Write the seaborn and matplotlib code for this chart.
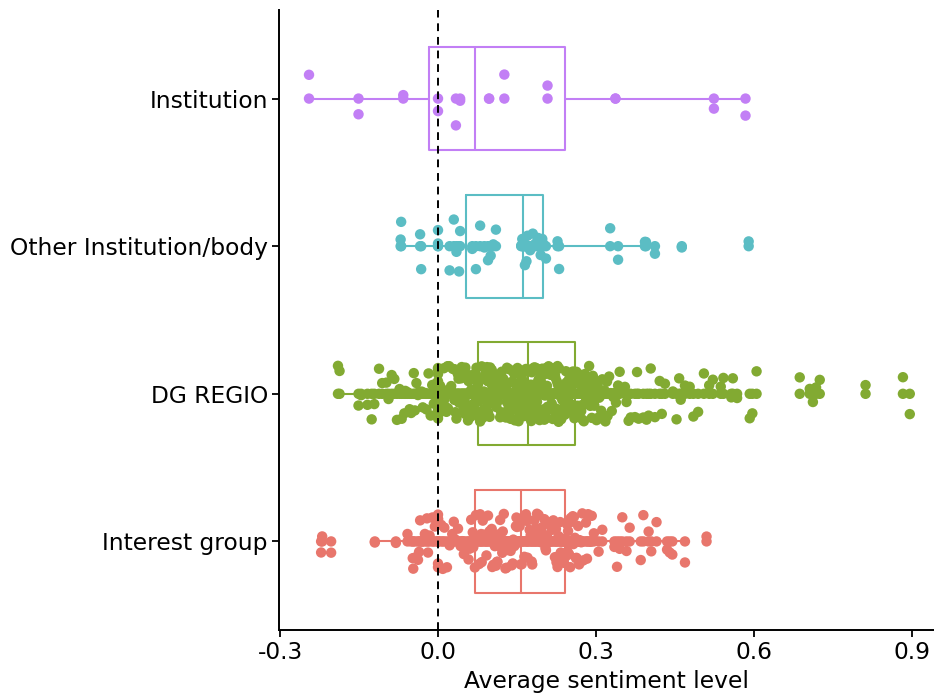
import numpy as np
import pandas as pd
import matplotlib
matplotlib.use("Agg")
import matplotlib.pyplot as plt
import seaborn as sns

# Actor groups, top to bottom
groups = ["Institution", "Other Institution/body", "DG REGIO", "Interest group"]

# Average sentiment level of each document, per actor group
institution = [-0.245, -0.151, -0.066, 0.000, 0.034, 0.042, 0.097, 0.126,
               0.208, 0.337, 0.524, 0.584]

other_body = [-0.071, -0.070, -0.034, -0.032, 0.000, 0.000, 0.022, 0.030,
              0.035, 0.040, 0.042,
              0.065, 0.072, 0.080, 0.088, 0.095, 0.100, 0.105, 0.110,
              0.158, 0.160, 0.162, 0.163, 0.165, 0.168, 0.170, 0.175, 0.180,
              0.185, 0.190, 0.195, 0.198, 0.200, 0.205,
              0.227, 0.230, 0.327, 0.342, 0.393, 0.395, 0.412, 0.463, 0.590]

dg_regio = [-0.190, -0.187, -0.151, -0.146, -0.134, -0.126, -0.121, -0.112,
            -0.106, -0.094, -0.083, -0.078, -0.069, -0.064, -0.058, -0.051,
            -0.046, -0.041, -0.035, -0.029, -0.024, -0.018, -0.011, -0.005,
            -0.098, -0.088, -0.073, -0.062, -0.054, -0.044, -0.038, -0.031,
            -0.022, -0.014, -0.008,
            0.000, 0.000, 0.000, 0.000, 0.000, 0.000, 0.000, 0.000,
            0.000, 0.000, 0.000,
            0.004, 0.007, 0.009, 0.012, 0.014, 0.016, 0.019, 0.021, 0.023,
            0.026, 0.028, 0.030, 0.031, 0.033, 0.035, 0.037, 0.039, 0.040,
            0.042, 0.044, 0.046, 0.047, 0.049, 0.051, 0.052, 0.054, 0.055,
            0.057, 0.058, 0.060, 0.061, 0.062, 0.064, 0.065, 0.066, 0.067,
            0.068, 0.069, 0.070, 0.071, 0.072, 0.073, 0.074,
            0.003, 0.011, 0.018, 0.025, 0.032, 0.038, 0.045, 0.050, 0.056,
            0.063, 0.071,
            0.076, 0.077, 0.079, 0.080, 0.081, 0.083, 0.084, 0.085, 0.087,
            0.088, 0.089, 0.091, 0.092, 0.093, 0.094, 0.096, 0.097, 0.098,
            0.099, 0.101, 0.102, 0.103, 0.104, 0.106, 0.107, 0.108, 0.110,
            0.111, 0.112, 0.113, 0.115, 0.116, 0.117, 0.118, 0.120, 0.121,
            0.122, 0.124, 0.125, 0.126, 0.127, 0.129, 0.130, 0.131, 0.132,
            0.134, 0.135, 0.136, 0.138, 0.139, 0.140, 0.141, 0.143, 0.144,
            0.145, 0.146, 0.148, 0.149, 0.150, 0.151, 0.153, 0.154, 0.155,
            0.156, 0.158, 0.159, 0.160, 0.161, 0.162, 0.163, 0.164, 0.165,
            0.166, 0.168, 0.169,
            0.078, 0.082, 0.086, 0.090, 0.095, 0.100, 0.105, 0.109, 0.114,
            0.119, 0.123, 0.128, 0.133, 0.137, 0.142, 0.147, 0.152, 0.157,
            0.160, 0.163, 0.165, 0.167, 0.168, 0.157, 0.131,
            0.171, 0.172, 0.173, 0.175, 0.176, 0.177, 0.178, 0.179, 0.181,
            0.182, 0.183, 0.184, 0.185, 0.187, 0.188, 0.189, 0.190, 0.191,
            0.193, 0.194, 0.195, 0.196, 0.197, 0.199, 0.200, 0.201, 0.202,
            0.203, 0.205, 0.206, 0.207, 0.208, 0.209, 0.211, 0.212, 0.213,
            0.214, 0.215, 0.217, 0.218, 0.219, 0.220, 0.221, 0.223, 0.224,
            0.225, 0.226, 0.227, 0.229, 0.230, 0.231, 0.232, 0.233, 0.235,
            0.236, 0.237, 0.238, 0.239, 0.241, 0.242, 0.243, 0.244, 0.245,
            0.247, 0.248, 0.249, 0.250, 0.251, 0.253, 0.254, 0.255, 0.256,
            0.257, 0.259, 0.260,
            0.174, 0.180, 0.186, 0.192, 0.198, 0.204, 0.210, 0.216, 0.222,
            0.228, 0.234, 0.240, 0.246, 0.252, 0.258, 0.178, 0.189, 0.201,
            0.213, 0.226, 0.239, 0.183, 0.196, 0.219, 0.244,
            0.263, 0.264, 0.266, 0.267, 0.268, 0.270, 0.271, 0.272, 0.274,
            0.275, 0.276, 0.278, 0.279, 0.280, 0.282, 0.283, 0.284, 0.286,
            0.287, 0.288, 0.290, 0.291, 0.292, 0.294, 0.295, 0.296, 0.298,
            0.299, 0.301, 0.303,
            0.265, 0.269, 0.273, 0.277, 0.281, 0.285, 0.289, 0.293, 0.297,
            0.300, 0.304, 0.308, 0.312, 0.316, 0.322, 0.330, 0.336, 0.342,
            0.355, 0.362, 0.378, 0.400, 0.425, 0.458, 0.515,
            0.306, 0.310, 0.314, 0.318, 0.321, 0.325, 0.328, 0.333, 0.338,
            0.345, 0.358, 0.366, 0.374, 0.381, 0.390, 0.396, 0.404, 0.412,
            0.421, 0.431, 0.446, 0.453, 0.461, 0.469, 0.478, 0.485, 0.494,
            0.505, 0.522, 0.537,
            0.542, 0.557, 0.560, 0.568, 0.592, 0.597, 0.605, 0.687, 0.706,
            0.712, 0.718, 0.725, 0.812, 0.883, 0.896]

interest_group = [-0.222, -0.220, -0.203, -0.120, -0.080,
                  -0.058, -0.052, -0.047, -0.043, -0.038, -0.034, -0.030,
                  -0.025, -0.021, -0.016, -0.011, -0.006,
                  -0.048, -0.036, -0.019, -0.009,
                  0.000, 0.000, 0.000, 0.000, 0.000, 0.000,
                  0.006, 0.012, 0.017, 0.022, 0.027, 0.033, 0.038, 0.043,
                  0.049, 0.054, 0.058, 0.063, 0.067,
                  0.009, 0.030, 0.046, 0.060, 0.066,
                  0.070, 0.073, 0.075, 0.078, 0.080, 0.083, 0.085, 0.088,
                  0.090, 0.093, 0.095, 0.098, 0.100, 0.103, 0.105, 0.108,
                  0.110, 0.113, 0.115, 0.118, 0.120, 0.123, 0.125, 0.128,
                  0.130, 0.133, 0.135, 0.138, 0.140, 0.143, 0.145, 0.148,
                  0.150, 0.152, 0.155,
                  0.072, 0.082, 0.092, 0.102, 0.112, 0.122, 0.132, 0.142,
                  0.149, 0.154,
                  0.157, 0.159, 0.162, 0.164, 0.167, 0.169, 0.171, 0.174,
                  0.176, 0.179, 0.181, 0.183, 0.186, 0.188, 0.191, 0.193,
                  0.195, 0.197, 0.200, 0.202, 0.205, 0.207, 0.210, 0.212,
                  0.214, 0.217, 0.219, 0.222, 0.224, 0.227, 0.229, 0.232,
                  0.234, 0.236, 0.239,
                  0.160, 0.170, 0.178, 0.185, 0.196, 0.204, 0.215, 0.225,
                  0.233, 0.238,
                  0.241, 0.243, 0.245, 0.247, 0.249, 0.251, 0.253, 0.256,
                  0.258, 0.260, 0.263, 0.266, 0.269, 0.272, 0.276, 0.281,
                  0.285, 0.289, 0.296, 0.312,
                  0.242, 0.246, 0.252, 0.257, 0.262, 0.268, 0.274, 0.283,
                  0.292, 0.305,
                  0.335, 0.340, 0.345, 0.350, 0.358, 0.364, 0.385, 0.390,
                  0.400, 0.405, 0.415, 0.435, 0.440, 0.445, 0.469, 0.510]

group_colors = ["#C27FF5", "#5BBDC4", "#82AA32", "#E8766C"]

x_ticks = [-0.3, 0.0, 0.3, 0.6, 0.9]
x_tick_labels = ["-0.3", "0.0", "0.3", "0.6", "0.9"]

values_by_group = [institution, other_body, dg_regio, interest_group]
df = pd.DataFrame({
    "group": np.concatenate([[g] * len(v) for g, v in zip(groups, values_by_group)]),
    "sentiment": np.concatenate(values_by_group),
})
palette = dict(zip(groups, group_colors))

sns.set_theme(style="ticks")
plt.rcParams["font.family"] = ["DejaVu Sans"]
FS = 16.8

fig = plt.figure(figsize=(9.34, 6.93), dpi=100)
ax = fig.add_axes([279 / 934, 63 / 693, 655 / 934, 620 / 693])

sns.boxplot(data=df, x="sentiment", y="group", order=groups, hue="group",
            hue_order=groups, palette=palette, fill=False, width=0.7,
            whis=1.5, showfliers=False, showcaps=False, linewidth=1.5,
            legend=False, ax=ax)

# every observation once on the group line ...
sns.stripplot(data=df, x="sentiment", y="group", order=groups, hue="group",
              hue_order=groups, palette=palette, jitter=False, size=7.5,
              linewidth=0, legend=False, ax=ax, zorder=3)
# ... and once more with vertical jitter
np.random.seed(7)
sns.stripplot(data=df, x="sentiment", y="group", order=groups, hue="group",
              hue_order=groups, palette=palette, jitter=0.19, size=7.5,
              linewidth=0, legend=False, ax=ax, zorder=3)

ax.axvline(0, color="black", linewidth=1.4, linestyle=(0, (4, 3)), zorder=5)

ax.set_xlim(-0.302, 0.942)
ax.set_ylim(3.6, -0.6)
ax.set_xticks(x_ticks)
ax.set_xticklabels(x_tick_labels)
ax.set_xlabel("Average sentiment level", fontsize=FS, color="black", labelpad=4)
ax.set_ylabel("")
ax.tick_params(axis="both", labelsize=FS, colors="black", length=5,
               width=1.3, direction="out")
ax.tick_params(axis="x", pad=3)
ax.tick_params(axis="y", pad=3)
for side in ["top", "right"]:
    ax.spines[side].set_visible(False)
for side in ["left", "bottom"]:
    ax.spines[side].set_linewidth(1.4)
    ax.spines[side].set_color("black")

fig.savefig("out.png", dpi=100, facecolor="white")
